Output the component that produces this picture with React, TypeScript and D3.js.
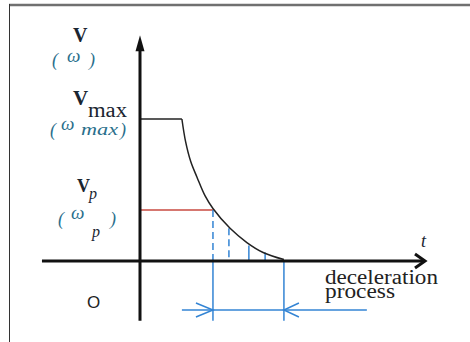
import React from "react";
import * as d3 from "d3";

// Deceleration curve (t in arbitrary units, v normalised to Vmax)
const curveT = [1.47, 1.6, 1.78, 2.0, 2.28, 2.56, 3.16, 3.75, 4.32, 5.05];
const curveV = [1.0, 0.84, 0.7, 0.59, 0.46, 0.37, 0.23, 0.13, 0.06, 0.01];
const vMax = 1.0;
const vP = 0.36;
const tStart = 1.47;
const tP = 2.56;
// step markers under the curve
const markerT = [2.56, 3.12, 3.82, 4.39, 5.05];
const markerV = [0.36, 0.23, 0.11, 0.06, 0.0];
const markerDashed = [true, true, false, false, false];
// dimension line for the deceleration process
const dimFrom = 1.47;
const dimTo = 7.96;
const dimV = -0.345;
const dimStart = tP;
const dimEnd = 5.05;

const W = 470;
const H = 342;

const serif = "'Liberation Serif', 'Times New Roman', 'DejaVu Serif', serif";

function T(props: any) {
  return <text style={{ fontFamily: serif }} {...props} />;
}

export default function App() {
  const x = d3.scaleLinear().domain([0, 10]).range([140, 425]);
  const y = d3.scaleLinear().domain([0, 1]).range([261, 119]);

  const pts: [number, number][] = curveT.map((t, i) => [t, curveV[i]]);
  const line = d3
    .line<[number, number]>()
    .x((d) => x(d[0]))
    .y((d) => y(d[1]))
    .curve(d3.curveCatmullRom.alpha(0.5));

  const blue = "#3384d4";
  const red = "#c84a40";
  const teal = "#2a6f8c";
  const ink = "#1a2530";

  const x0 = x(0);
  const y0 = y(0);
  const yBottom = y(-0.42);
  const ds = x(dimStart);
  const de = x(dimEnd);
  const dy = y(dimV);

  return (
    <svg
      width={W}
      height={H}
      style={{ position: "absolute", left: 0, top: 0, background: "#fff" }}
    >
      {/* frame */}
      <line x1={9} y1={5} x2={W} y2={5} stroke="#707070" strokeWidth={2.5} />
      <line x1={9.5} y1={4} x2={9.5} y2={H} stroke="#333" strokeWidth={1} />

      {/* Vmax plateau */}
      <line x1={x0} y1={y(vMax)} x2={x(tStart)} y2={y(vMax)} stroke="#222" strokeWidth={1.5} />
      {/* Vp level */}
      <line x1={x0} y1={y(vP)} x2={x(tP)} y2={y(vP)} stroke={red} strokeWidth={1.5} />

      {/* marker lines */}
      {markerT.map((t, i) => (
        <line
          key={i}
          x1={x(t)}
          x2={x(t)}
          y1={y(markerV[i])}
          y2={y0}
          stroke={blue}
          strokeWidth={1.5}
          strokeDasharray={markerDashed[i] ? "7 4" : undefined}
        />
      ))}
      {/* extension lines below axis */}
      <line x1={ds} x2={ds} y1={y0} y2={yBottom} stroke={blue} strokeWidth={1.5} />
      <line x1={de} x2={de} y1={y0} y2={yBottom} stroke={blue} strokeWidth={1.5} />

      {/* dimension line */}
      <line x1={x(dimFrom)} x2={x(dimTo)} y1={dy} y2={dy} stroke={blue} strokeWidth={1.5} />
      <polyline
        points={`${ds - 17},${dy - 7} ${ds},${dy} ${ds - 17},${dy + 7}`}
        fill="none"
        stroke={blue}
        strokeWidth={1.5}
      />
      <polyline
        points={`${de + 15},${dy - 7} ${de},${dy} ${de + 15},${dy + 7}`}
        fill="none"
        stroke={blue}
        strokeWidth={1.5}
      />

      {/* curve */}
      <path d={line(pts) || ""} fill="none" stroke="#222" strokeWidth={1.5} />

      {/* axes */}
      <line x1={x(-3.44)} y1={y0} x2={x(10) - 2} y2={y0} stroke="#111" strokeWidth={3} />
      <polyline
        points={`${x(10) - 10},${y0 - 7} ${x(10)},${y0} ${x(10) - 10},${y0 + 7}`}
        fill="none"
        stroke="#111"
        strokeWidth={3}
      />
      <line x1={x0} y1={y(1.5)} x2={x0} y2={yBottom} stroke="#111" strokeWidth={3} />
      <path
        d={`M${x0},${y(1.59)} L${x0 + 4.5},${y(1.59) + 16} L${x0 - 4.5},${y(1.59) + 16} Z`}
        fill="#111"
      />

      {/* labels */}
      <T x={73} y={42} fontSize={20} fontWeight="bold" fill={ink}>V</T>
      <T x={52} y={66} fontSize={18} fontStyle="italic" fill={teal}>(</T>
      <T x={67} y={62} fontSize={19} fontStyle="italic" fill={teal}>ω</T>
      <T x={89} y={66} fontSize={18} fontStyle="italic" fill={teal}>)</T>

      <T x={73} y={105} fontSize={21} fontWeight="bold" fill={ink}>V</T>
      <T x={88} y={117} fontSize={20} fill={ink} textLength={39} lengthAdjust="spacingAndGlyphs">max</T>
      <T x={50} y={136} fontSize={18} fontStyle="italic" fill={teal}>(</T>
      <T x={61} y={130} fontSize={19} fontStyle="italic" fill={teal}>ω</T>
      <T x={81} y={135} fontSize={17} fontStyle="italic" fill={teal} textLength={37} lengthAdjust="spacingAndGlyphs">max</T>
      <T x={120} y={136} fontSize={18} fontStyle="italic" fill={teal}>)</T>

      <T x={77} y={192} fontSize={18} fontWeight="bold" fill={ink}>V</T>
      <T x={89} y={199} fontSize={16} fontStyle="italic" fill={ink}>p</T>
      <T x={58} y={225} fontSize={18} fontStyle="italic" fill={teal}>(</T>
      <T x={71} y={219} fontSize={19} fontStyle="italic" fill={teal}>ω</T>
      <T x={92} y={237} fontSize={16} fontStyle="italic" fill={ink}>p</T>
      <T x={110} y={225} fontSize={18} fontStyle="italic" fill={teal}>)</T>

      <T x={421} y={247} fontSize={18} fontStyle="italic" fill={ink}>t</T>
      <T x={325} y={284} fontSize={20} fill="#222" textLength={113} lengthAdjust="spacingAndGlyphs">deceleration</T>
      <T x={325} y={298} fontSize={20} fill="#222" textLength={70} lengthAdjust="spacingAndGlyphs">process</T>
      <text x={87} y={308} fontSize={17} style={{ fontFamily: "'Liberation Sans', Arial, sans-serif" }} fill="#222">O</text>
    </svg>
  );
}
